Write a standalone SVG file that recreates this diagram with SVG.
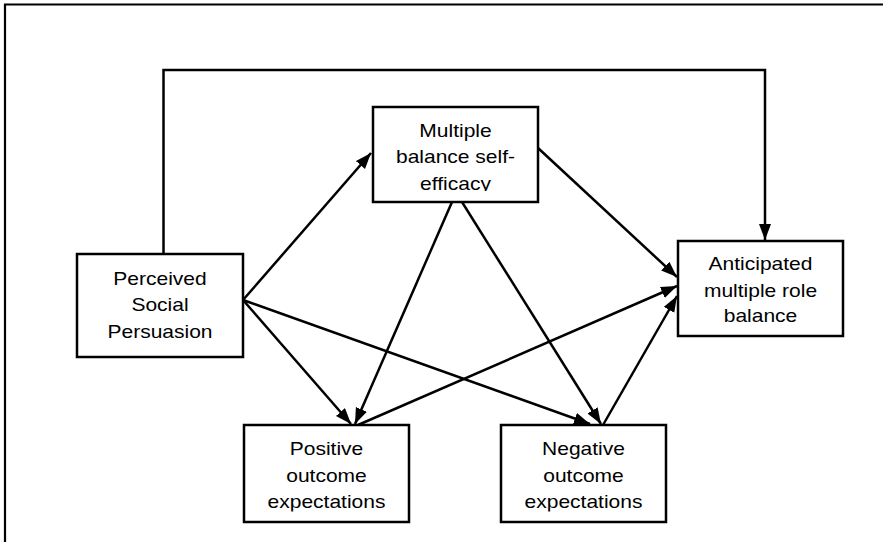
<svg xmlns="http://www.w3.org/2000/svg" width="883" height="542" viewBox="0 0 883 542">
<style>
.box{fill:#fff;stroke:#000;stroke-width:2.5}
.lbl{font-family:"Liberation Sans",Arial,sans-serif;font-size:17.5px;fill:#000;text-anchor:middle}
.con{fill:none;stroke:#000;stroke-width:2.5}
.frame{fill:none;stroke:#000;stroke-width:2.2}
</style>
<defs>
<marker id="ah" markerUnits="userSpaceOnUse" markerWidth="17" markerHeight="13" refX="16" refY="6" orient="auto">
<path d="M0,0 L16,6 L0,12 z" fill="#000"/>
</marker>
<clipPath id="clipM"><rect x="373" y="107" width="165" height="84"/></clipPath>
<clipPath id="clipP"><rect x="244" y="425" width="165" height="86.5"/></clipPath>
<clipPath id="clipN"><rect x="501" y="425" width="165" height="86.5"/></clipPath>
</defs>
<rect width="883" height="542" fill="#fff"/>
<path class="frame" d="M5,542 V4.5 H883"/>
<g id="connectors">
<path class="con" d="M163.5,254 V70 H765 V240" marker-end="url(#ah)"/>
<line class="con" x1="243" y1="300" x2="371" y2="153" marker-end="url(#ah)"/>
<line class="con" x1="243" y1="300" x2="351" y2="424" marker-end="url(#ah)"/>
<line class="con" x1="243" y1="300" x2="590" y2="424" marker-end="url(#ah)"/>
<line class="con" x1="452" y1="202" x2="355" y2="424" marker-end="url(#ah)"/>
<line class="con" x1="462" y1="202" x2="601" y2="424" marker-end="url(#ah)"/>
<line class="con" x1="538" y1="148" x2="677" y2="277" marker-end="url(#ah)"/>
<line class="con" x1="358" y1="425" x2="677" y2="286" marker-end="url(#ah)"/>
<line class="con" x1="603" y1="425" x2="677" y2="296" marker-end="url(#ah)"/>
</g>
<g id="perceived">
<rect class="box" x="77" y="254" width="166" height="103"/>
<g transform="translate(160 0) scale(1.2 1)">
<text class="lbl" x="0" y="285">Perceived</text>
<text class="lbl" x="0" y="311.5">Social</text>
<text class="lbl" x="0" y="338">Persuasion</text>
</g>
</g>
<g id="multiple">
<rect class="box" x="373" y="107" width="165" height="95"/>
<g clip-path="url(#clipM)">
<g transform="translate(455.5 0) scale(1.2 1)">
<text class="lbl" x="0" y="137">Multiple</text>
<text class="lbl" x="0" y="163.5">balance self-</text>
<text class="lbl" x="0" y="190">efficacy</text>
</g>
</g>
</g>
<g id="anticipated">
<rect class="box" x="678" y="241" width="165" height="95"/>
<g transform="translate(760.5 0) scale(1.2 1)">
<text class="lbl" x="0" y="270.5">Anticipated</text>
<text class="lbl" x="0" y="297">multiple role</text>
<text class="lbl" x="0" y="322.5">balance</text>
</g>
</g>
<g id="positive">
<rect class="box" x="244" y="425" width="165" height="97"/>
<g clip-path="url(#clipP)">
<g transform="translate(326.5 0) scale(1.2 1)">
<text class="lbl" x="0" y="455.5">Positive</text>
<text class="lbl" x="0" y="482">outcome</text>
<text class="lbl" x="0" y="508.5">expectations</text>
</g>
</g>
</g>
<g id="negative">
<rect class="box" x="501" y="425" width="165" height="97"/>
<g clip-path="url(#clipN)">
<g transform="translate(583.5 0) scale(1.2 1)">
<text class="lbl" x="0" y="455.5">Negative</text>
<text class="lbl" x="0" y="482">outcome</text>
<text class="lbl" x="0" y="508.5">expectations</text>
</g>
</g>
</g>
</svg>
